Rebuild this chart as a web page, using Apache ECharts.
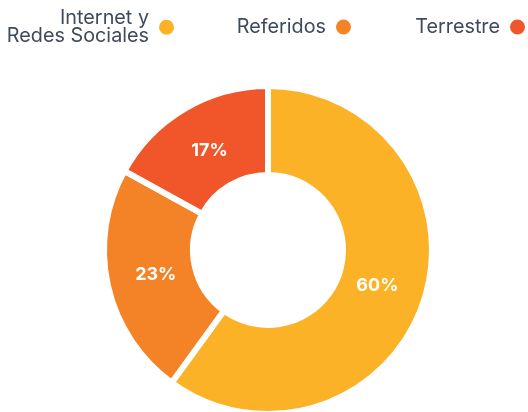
<!DOCTYPE html>
<html>
<head>
<meta charset="utf-8">
<script src="https://cdn.jsdelivr.net/npm/echarts@6/dist/echarts.min.js"></script>
<style>
  html, body { margin: 0; padding: 0; background: #ffffff; }
  #chart { width: 528px; height: 412px; }
</style>
</head>
<body>
<div id="chart"></div>
<script>
// Traffic sources share (%)
const categories = ['Internet y\nRedes Sociales', 'Referidos', 'Terrestre'];
const values = [60, 23, 17];
const colors = ['#FBB227', '#F48226', '#F0562A'];

const chart = echarts.init(document.getElementById('chart'));

// one legend per category so each entry sits at its own spot
const legendRight = [352, 175, 1];
const legendTop = [8, 17, 17];
const legends = categories.map((name, i) => ({
  data: [name],
  top: legendTop[i],
  right: legendRight[i],
  padding: 0,
  align: 'right',
  itemWidth: 17,
  itemHeight: 17,
  icon: 'circle',
  selectedMode: false,
  textStyle: {
    color: '#3F4A5A',
    fontFamily: 'Inter',
    fontSize: 19.8,
    lineHeight: 18.5,
    padding: [0, 4, 0, 0]
  }
}));

const pieData = categories.map((name, i) => ({ name, value: values[i] }));

chart.setOption({
  animation: false,
  color: colors,
  legend: legends,
  series: [{
    type: 'pie',
    center: [268, 250],
    radius: [75, 164],
    startAngle: 90,
    clockwise: true,
    data: pieData,
    itemStyle: { borderColor: '#ffffff', borderWidth: 6 },
    label: { show: false },
    labelLine: { show: false },
    emphasis: { disabled: true }
  }, {
    // transparent ring that only carries the percentage labels
    type: 'pie',
    center: [268, 250],
    radius: [72, 152],
    startAngle: 90,
    clockwise: true,
    silent: true,
    data: pieData,
    itemStyle: { color: 'rgba(0,0,0,0)' },
    label: {
      position: 'inside',
      formatter: '{c}%',
      color: '#ffffff',
      fontFamily: 'Inter',
      fontWeight: 'bold',
      fontSize: 18
    },
    labelLine: { show: false },
    emphasis: { disabled: true }
  }]
});
</script>
</body>
</html>
